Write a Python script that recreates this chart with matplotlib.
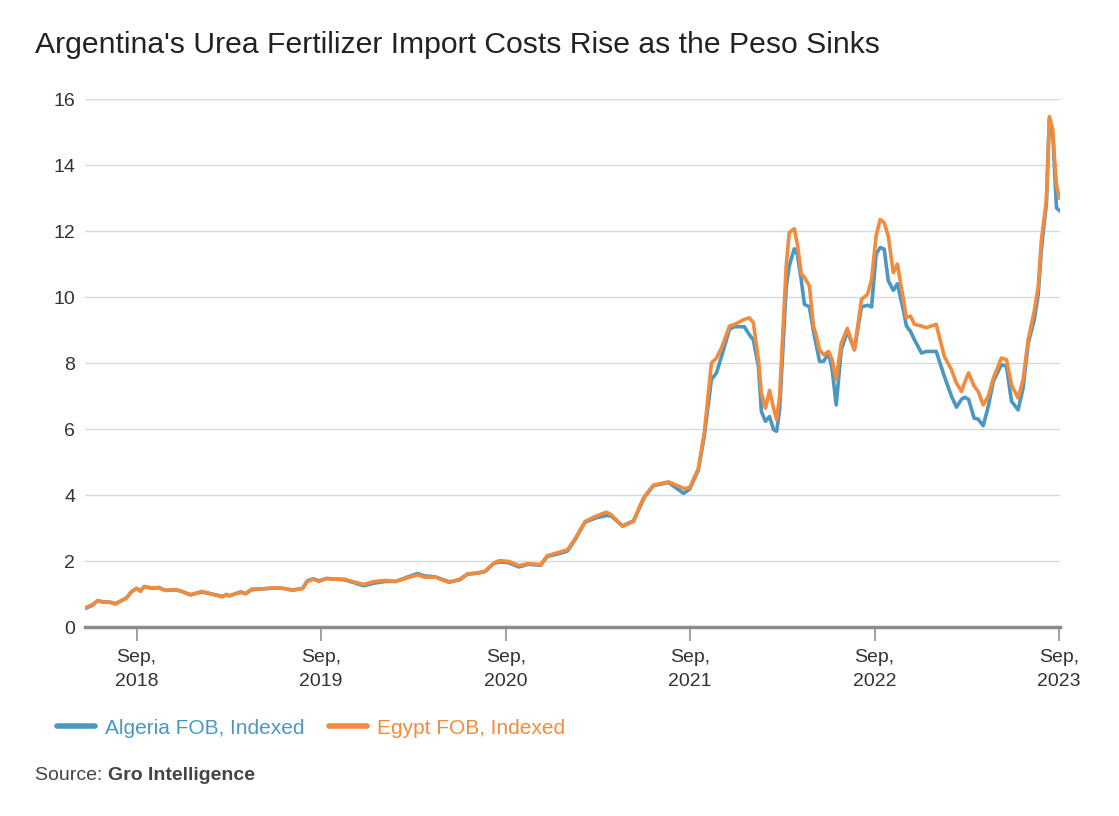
import numpy as np
import pandas as pd
import matplotlib
matplotlib.use('Agg')
import matplotlib.pyplot as plt
from matplotlib.lines import Line2D

plt.rcParams['font.family'] = ['Liberation Sans', 'DejaVu Sans']

# (indexed prices)
dates = [
    '2018-05-25', '2018-06-06', '2018-06-16', '2018-06-26', '2018-07-12', '2018-07-21',
    '2018-07-31', '2018-08-12', '2018-08-22', '2018-09-01', '2018-09-09', '2018-09-16',
    '2018-10-01', '2018-10-15', '2018-10-28', '2018-11-19', '2018-11-29', '2018-12-17',
    '2019-01-08', '2019-01-25', '2019-02-18', '2019-02-26', '2019-03-04', '2019-03-26',
    '2019-04-05', '2019-04-17', '2019-05-04', '2019-05-24', '2019-06-15', '2019-07-07',
    '2019-07-27', '2019-08-05', '2019-08-17', '2019-08-28', '2019-09-12', '2019-09-29',
    '2019-10-17', '2019-11-02', '2019-11-24', '2019-12-16', '2020-01-06', '2020-01-27',
    '2020-02-17', '2020-03-10', '2020-03-24', '2020-04-14', '2020-05-12', '2020-06-02',
    '2020-06-17', '2020-07-07', '2020-07-22', '2020-08-08', '2020-08-19', '2020-09-06',
    '2020-09-27', '2020-10-15', '2020-11-09', '2020-11-22', '2020-12-10', '2021-01-01',
    '2021-01-15', '2021-02-05', '2021-02-25', '2021-03-19', '2021-03-29', '2021-04-20',
    '2021-05-12', '2021-05-25', '2021-06-02', '2021-06-20', '2021-07-20', '2021-08-19',
    '2021-08-31', '2021-09-17', '2021-09-29', '2021-10-13', '2021-10-23', '2021-11-02',
    '2021-11-18', '2021-11-28', '2021-12-17', '2021-12-27', '2022-01-04', '2022-01-14',
    '2022-01-20', '2022-01-28', '2022-02-05', '2022-02-13', '2022-02-19', '2022-02-25',
    '2022-03-04', '2022-03-10', '2022-03-16', '2022-03-26', '2022-04-01', '2022-04-09',
    '2022-04-15', '2022-04-25', '2022-05-03', '2022-05-09', '2022-05-15', '2022-05-23',
    '2022-06-02', '2022-06-09', '2022-06-17', '2022-06-27', '2022-07-09', '2022-07-23',
    '2022-08-06', '2022-08-18', '2022-08-26', '2022-09-04', '2022-09-12', '2022-09-20',
    '2022-09-28', '2022-10-08', '2022-10-16', '2022-10-28', '2022-11-03', '2022-11-11',
    '2022-11-19', '2022-12-03', '2022-12-12', '2023-01-01', '2023-01-17', '2023-01-31',
    '2023-02-10', '2023-02-20', '2023-02-26', '2023-03-06', '2023-03-17', '2023-03-25',
    '2023-04-04', '2023-04-14', '2023-04-24', '2023-05-10', '2023-05-20', '2023-05-30',
    '2023-06-12', '2023-06-22', '2023-07-02', '2023-07-14', '2023-07-22', '2023-07-28',
    '2023-08-01', '2023-08-07', '2023-08-13', '2023-08-20', '2023-08-23', '2023-08-27',
    '2023-09-02',
]

egypt = [
    0.60, 0.68, 0.80, 0.76, 0.74, 0.69,
    0.78, 0.88, 1.07, 1.17, 1.08, 1.23,
    1.18, 1.20, 1.11, 1.13, 1.08, 0.97,
    1.08, 1.01, 0.91, 0.99, 0.94, 1.07,
    1.01, 1.15, 1.15, 1.18, 1.18, 1.11,
    1.17, 1.38, 1.45, 1.38, 1.47, 1.45,
    1.45, 1.38, 1.29, 1.38, 1.41, 1.38,
    1.48, 1.58, 1.51, 1.51, 1.35, 1.45,
    1.61, 1.64, 1.69, 1.94, 2.01, 1.99,
    1.86, 1.92, 1.89, 2.16, 2.24, 2.34,
    2.65, 3.20, 3.35, 3.48, 3.40, 3.05,
    3.20, 3.70, 3.95, 4.30, 4.40, 4.20,
    4.22, 4.80, 5.90, 8.00, 8.15, 8.46,
    9.12, 9.17, 9.32, 9.37, 9.22, 8.10,
    7.09, 6.63, 7.17, 6.63, 6.28, 6.99,
    9.12, 10.94, 11.95, 12.07, 11.60, 10.70,
    10.60, 10.33, 9.12, 8.80, 8.40, 8.25,
    8.35, 8.10, 7.50, 8.60, 9.05, 8.40,
    9.93, 10.08, 10.53, 11.85, 12.35, 12.25,
    11.85, 10.74, 11.00, 9.93, 9.37, 9.42,
    9.17, 9.12, 9.07, 9.17, 8.20, 7.80,
    7.39, 7.14, 7.40, 7.70, 7.30, 7.14,
    6.73, 6.99, 7.54, 8.15, 8.10, 7.34,
    6.94, 7.50, 8.71, 9.57, 10.33, 11.70,
    12.20, 12.92, 15.47, 15.05, 14.23, 13.40,
    13.00,
]

algeria = [
    0.58, 0.66, 0.80, 0.76, 0.75, 0.71,
    0.78, 0.88, 1.07, 1.17, 1.10, 1.22,
    1.18, 1.19, 1.11, 1.12, 1.08, 0.98,
    1.06, 1.01, 0.93, 0.97, 0.95, 1.05,
    1.01, 1.13, 1.15, 1.17, 1.18, 1.12,
    1.17, 1.40, 1.46, 1.40, 1.47, 1.45,
    1.43, 1.36, 1.25, 1.33, 1.38, 1.38,
    1.50, 1.62, 1.55, 1.52, 1.37, 1.43,
    1.60, 1.63, 1.68, 1.92, 1.97, 1.95,
    1.82, 1.90, 1.87, 2.14, 2.20, 2.30,
    2.62, 3.18, 3.30, 3.38, 3.36, 3.06,
    3.22, 3.65, 3.92, 4.28, 4.38, 4.05,
    4.18, 4.75, 5.80, 7.50, 7.70, 8.20,
    9.03, 9.10, 9.10, 8.86, 8.70, 7.90,
    6.53, 6.23, 6.38, 5.98, 5.93, 6.58,
    8.60, 10.30, 10.94, 11.46, 11.30, 10.50,
    9.78, 9.70, 8.96, 8.50, 8.05, 8.05,
    8.30, 7.80, 6.73, 8.40, 8.96, 8.40,
    9.70, 9.75, 9.70, 11.30, 11.50, 11.45,
    10.50, 10.20, 10.40, 9.60, 9.12, 8.96,
    8.70, 8.30, 8.35, 8.35, 7.60, 7.00,
    6.66, 6.90, 6.96, 6.90, 6.33, 6.30,
    6.10, 6.68, 7.44, 7.95, 7.90, 6.84,
    6.58, 7.24, 8.60, 9.30, 10.10, 11.40,
    12.00, 12.80, 15.40, 14.85, 13.90, 12.70,
    12.62,
]

tick_years = [2018, 2019, 2020, 2021, 2022, 2023]
y_ticks = [0, 2, 4, 6, 8, 10, 12, 14, 16]

BLUE = '#4b97c2'
ORANGE = '#f28b3d'
TEXT = '#333333'

d = pd.to_datetime(dates)

fig = plt.figure(figsize=(11.19, 8.16), dpi=100)
ax = fig.add_axes([85 / 1119, 189 / 816, 975 / 1119, 528 / 816])

ax.plot(d, algeria, color=BLUE, lw=2.6, solid_joinstyle='round', zorder=3)
ax.plot(d, egypt, color=ORANGE, lw=2.6, solid_joinstyle='round', zorder=4)

ax.set_ylim(0, 16)
ax.set_xlim(pd.Timestamp('2018-05-22'), pd.Timestamp('2023-09-03'))

# gridlines (no line at 0, that's the axis)
for v in y_ticks[1:]:
    ax.axhline(v, color='#d9d9d9', lw=1, zorder=1)

ax.set_yticks(y_ticks)
ax.set_yticklabels([str(v) for v in y_ticks])
ax.tick_params(axis='y', length=0, pad=7, labelsize=14, labelcolor=TEXT)

xt = [pd.Timestamp(f'{y}-09-01') for y in tick_years]
ax.set_xticks(xt)
ax.set_xticklabels([f'Sep,\n{y}' for y in tick_years], linespacing=1.55)
ax.tick_params(axis='x', length=10, width=1.3, color='#999999', pad=6,
               labelsize=14, labelcolor=TEXT)

for s in ['top', 'right', 'left']:
    ax.spines[s].set_visible(False)
ax.spines['bottom'].set_color('#8c8c8c')
ax.spines['bottom'].set_linewidth(2.5)

fig.text(35 / 1119, 1 - 45 / 816, "Argentina's Urea Fertilizer Import Costs Rise as the Peso Sinks",
         fontsize=21.7, color='#222222', va='center', ha='left')

handles = [Line2D([], [], color=BLUE, lw=4, solid_capstyle='round'),
           Line2D([], [], color=ORANGE, lw=4, solid_capstyle='round')]
fig.legend(handles, ['Algeria FOB, Indexed', 'Egypt FOB, Indexed'],
           loc='center left', bbox_to_anchor=(57 / 1119, 1 - 728 / 816),
           ncol=2, frameon=False, fontsize=15, handlelength=1.8,
           handletextpad=0.5, columnspacing=1.2, borderpad=0, borderaxespad=0,
           labelcolor='linecolor')

src = fig.text(35 / 1119, 1 - 775 / 816, 'Source: ', fontsize=14, color='#444444',
               va='center', ha='left')
fig.canvas.draw()
bb = src.get_window_extent()
fig.text(bb.x1 / fig.bbox.width, 1 - 775 / 816, 'Gro Intelligence', fontsize=14,
         color='#444444', fontweight='bold', va='center', ha='left')

fig.savefig('out.png', dpi=100)
